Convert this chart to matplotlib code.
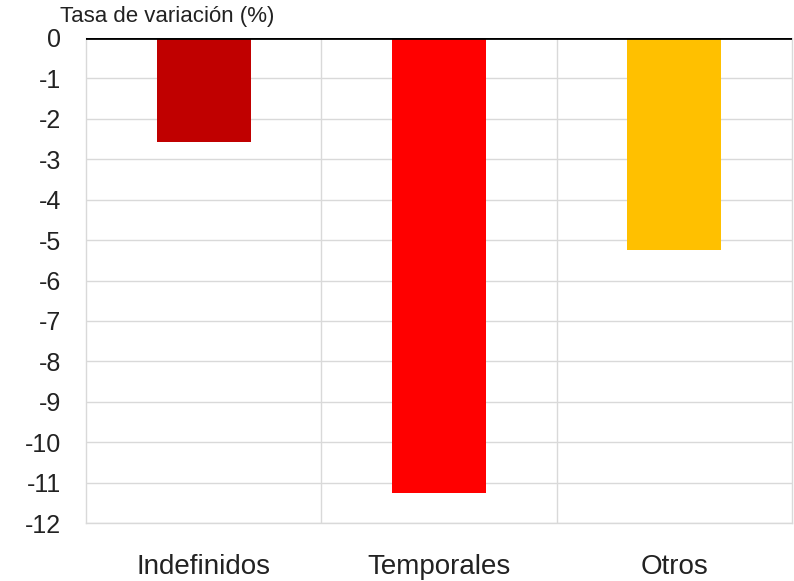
import matplotlib
matplotlib.use('Agg')
import matplotlib.pyplot as plt
import numpy as np

plt.rcParams['font.family'] = ['Liberation Sans', 'DejaVu Sans']

# Data
categories = ['Indefinidos', 'Temporales', 'Otros']
values = [-2.57, -11.25, -5.24]
colors = ['#c00000', '#ff0000', '#ffc000']
yticks = list(range(0, -13, -1))

fig = plt.figure(figsize=(7.94, 5.81), dpi=100)
ax = fig.add_axes([0.1083, 0.0998, 0.889, 0.8348])

x = np.arange(len(categories))
ax.bar(x, values, width=0.4, color=colors, zorder=3)

ax.set_xlim(-0.5, 2.5)
ax.set_ylim(-12, 0)
ax.set_yticks(yticks)
ax.set_yticklabels([str(v) for v in yticks], fontsize=18, color='#222222')
ax.set_xticks(x)
ax.set_xticklabels(categories, fontsize=20, color='#222222')
ax.set_xticks([0.5, 1.5], minor=True)

ax.tick_params(axis='both', which='both', length=0)
ax.tick_params(axis='y', pad=18)
ax.tick_params(axis='x', pad=22)

ax.grid(True, axis='y', color='#d9d9d9', linewidth=1, zorder=0)
ax.grid(True, axis='x', which='minor', color='#d9d9d9', linewidth=1, zorder=0)

for side in ['left', 'right', 'bottom']:
    ax.spines[side].set_color('#d9d9d9')
    ax.spines[side].set_linewidth(1)
ax.spines['top'].set_visible(False)
ax.axhline(0, color='black', linewidth=2, zorder=4)

fig.text(0.076, 0.971, 'Tasa de variación (%)', fontsize=16, color='#222222',
         ha='left', va='center')

fig.savefig('out.png', dpi=100, facecolor='white')
